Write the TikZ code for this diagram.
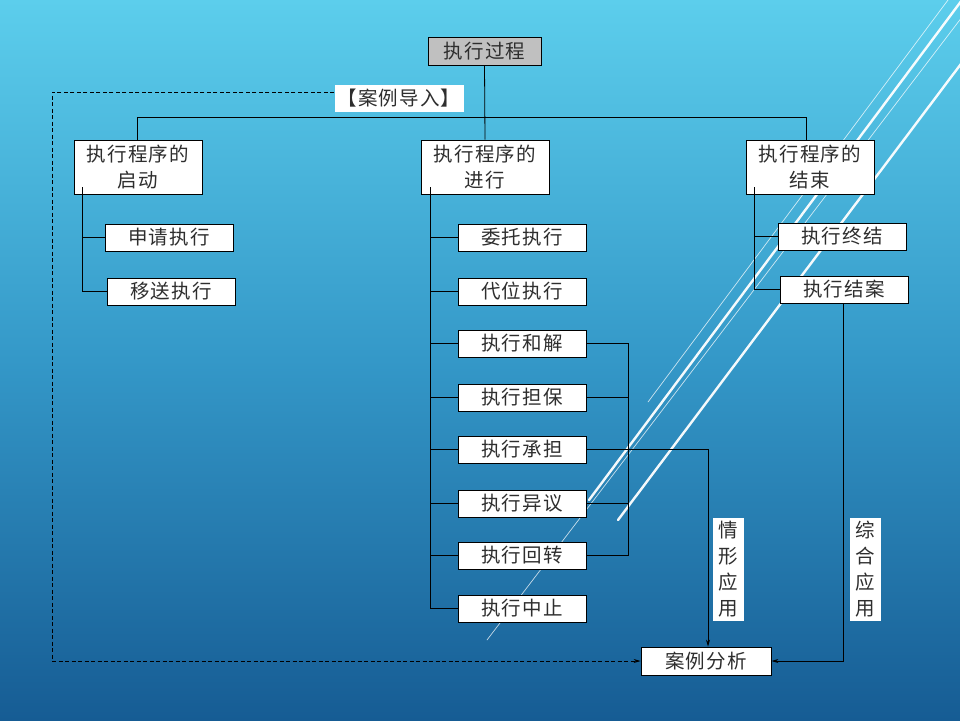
\documentclass[tikz,border=0pt]{standalone}
\usepackage{fontspec}
\newfontfamily\cjk[LetterSpace=6]{Noto Sans CJK SC}
\usetikzlibrary{arrows.meta}
\definecolor{bgtop}{RGB}{92,206,236}
\definecolor{bgmid}{RGB}{52,152,200}
\definecolor{bgbot}{RGB}{22,92,148}
\definecolor{grayfill}{RGB}{192,192,192}
\begin{document}
\begin{tikzpicture}[x=1pt,y=-1pt,
  txt/.style={inner sep=0pt,font=\cjk\fontsize{19.5}{26}\selectfont,text=black!82,align=center},
  box/.style={txt,draw=black,fill=white,line width=0.8pt},
  sbox/.style={box,minimum width=128pt,minimum height=27pt},
  bbox/.style={box,minimum width=128pt,minimum height=54pt},
  lbl/.style={txt,fill=white},
  conn/.style={line width=0.8pt,black},
  arr/.style={conn,-{Stealth[length=7pt,width=4pt]}},
  deco/.style={white,line cap=round}]
\useasboundingbox (0,0) rectangle (960,720);
\shade[top color=bgtop,bottom color=bgbot,middle color=bgmid] (0,0) rectangle (960,720);
% decorative lines
\begin{scope}
\clip (0,0) rectangle (960,720);
\draw[deco,line width=0.7pt,opacity=0.75] (948,0) -- (648,402);
\draw[deco,line width=2.4pt,opacity=0.95] (962,0) -- (589,500);
\draw[deco,line width=0.7pt,opacity=0.75] (975,0) -- (487,640);
\draw[deco,line width=2.4pt,opacity=0.95] (1009,0) -- (618,520);
\end{scope}
% nodes
\node[box,fill=grayfill,minimum width=113pt,minimum height=28pt] (root) at (484.5,51) {执行过程};
\node[lbl,minimum width=129pt,minimum height=27pt] (intro) at (399,98.5) {【案例导入】};
\node[bbox] (start) at (138,167) {执行程序的\\启动};
\node[bbox] (mid) at (485,167) {执行程序的\\进行};
\node[bbox] (end) at (810,167) {执行程序的\\结束};
\node[sbox] (s1) at (169,237.5) {申请执行};
\node[sbox] (s2) at (171,291.5) {移送执行};
\node[sbox] (m1) at (522,237.5) {委托执行};
\node[sbox] (m2) at (522,291.5) {代位执行};
\node[sbox] (m3) at (522,343.5) {执行和解};
\node[sbox] (m4) at (522,397.5) {执行担保};
\node[sbox] (m5) at (522,449.5) {执行承担};
\node[sbox] (m6) at (522,503.5) {执行异议};
\node[sbox] (m7) at (522,555.5) {执行回转};
\node[sbox] (m8) at (522,608.5) {执行中止};
\node[sbox] (e1) at (842,236.5) {执行终结};
\node[sbox] (e2) at (844,289.5) {执行结案};
\node[sbox,minimum width=130pt,minimum height=28pt] (case) at (706,661) {案例分析};
\node[lbl,minimum width=31pt,minimum height=103pt] (q1) at (728.5,569.5) {情\\形\\应\\用};
\node[lbl,minimum width=31pt,minimum height=103pt] (q2) at (865.5,569.5) {综\\合\\应\\用};
% top tree
\coordinate (hl) at (137,117);
\coordinate (hr) at (806,117);
\draw[conn] (root.south) -- (mid.north);
\draw[conn] (hl |- start.north) -- (hl) -- (hr) -- (hr |- end.north);
% left spine
\coordinate (lsp) at (82,187);
\draw[conn] (lsp) |- (s2.west);
\draw[conn] (lsp |- s1.west) -- (s1.west);
% middle spine
\coordinate (msp) at (430,187);
\draw[conn] (msp) |- (m8.west);
\foreach \n in {m1,m2,m3,m4,m5,m6,m7}{\draw[conn] (msp |- \n.west) -- (\n.west);}
% right bracket
\coordinate (rb) at (628,0);
\draw[conn] (m3.east) -- (m3.east -| rb) -- (m7.east -| rb) -- (m7.east);
\draw[conn] (m4.east) -- (m4.east -| rb);
\draw[conn] (m6.east) -- (m6.east -| rb);
\coordinate (ax) at (708,0);
\draw[arr] (m5.east) -| (ax |- case.north);
% right spine
\coordinate (rsp) at (754,187);
\draw[conn] (rsp) |- (e2.west);
\draw[conn] (rsp |- e1.west) -- (e1.west);
\coordinate (ex) at (843,0);
\draw[arr] (ex |- e2.south) |- (case.east);
% dashed case import
\coordinate (dy) at (52,92);
\draw[arr,dash pattern=on 4pt off 2.5pt] (intro.west |- dy) -- (dy) |- (case.west);
\end{tikzpicture}
\end{document}
